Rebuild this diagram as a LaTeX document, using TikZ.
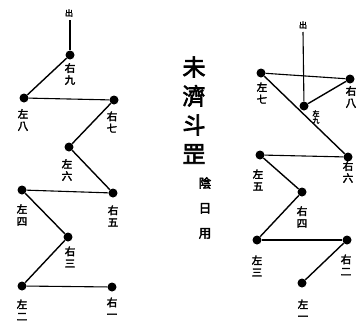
\documentclass[tikz,border=0pt]{standalone}
\usepackage{fontspec}
\newfontfamily\cjk{Noto Sans CJK TC}[FakeBold=3]
\tikzset{
  dot/.style={circle,fill=black,inner sep=0pt,minimum size=9pt},
  lbl/.style={font=\cjk\fontsize{10.5}{12}\selectfont,align=center,inner sep=0pt},
  tinylbl/.style={font=\cjk\fontsize{7}{7}\selectfont,align=center,inner sep=0pt},
  edge/.style={line width=1.4pt},
  thin/.style={line width=1.1pt},
}
\begin{document}
\begin{tikzpicture}[x=1pt,y=-1pt]
\useasboundingbox (0,0) rectangle (358,327);
% ---------- left figure ----------
\node[lbl,font=\cjk\fontsize{8}{8}\selectfont] (Lout) at (69,13) {出};
\coordinate (Ltop) at (70,20);
\node[dot] (L9) at (70,55) {};
\node[dot] (L8) at (24,98) {};
\node[dot] (L7) at (114,100) {};
\node[dot] (L6) at (69,147) {};
\node[dot] (L5) at (113,193) {};
\node[dot] (L4) at (22,190) {};
\node[dot] (L3) at (68,237) {};
\node[dot] (L2) at (22,286) {};
\node[dot] (L1) at (112,287) {};
\node[lbl] (tL9) at (70,74) {右\\九};
\node[lbl] (tL8) at (23,120) {左\\八};
\node[lbl] (tL7) at (112,122) {右\\七};
\node[lbl] (tL6) at (67,170) {左\\六};
\node[lbl] (tL5) at (113,216) {右\\五};
\node[lbl] (tL4) at (22,215) {左\\四};
\node[lbl] (tL3) at (70,257) {右\\三};
\node[lbl] (tL2) at (22,310) {左\\二};
\node[lbl] (tL1) at (112,308) {右\\一};
\draw[thin] (Ltop) -- (L9);
\draw[edge] (L9) -- (L8);
\draw[thin] (L8) -- (L7);
\draw[edge] (L7) -- (L6);
\draw[edge] (L6) -- (L5);
\draw[thin] (L5) -- (L4);
\draw[edge] (L4) -- (L3);
\draw[edge] (L3) -- (L2);
\draw[thin] (L2) -- (L1);
% ---------- title ----------
\node[lbl,font=\cjk\fontsize{23}{29}\selectfont] (title) at (194,110) {未\\濟\\斗\\罡};
\node[lbl,font=\cjk\fontsize{12.5}{25}\selectfont] (sub) at (205,208) {陰\\日\\用};
% ---------- right figure ----------
\node[lbl,font=\cjk\fontsize{8}{8}\selectfont] (Rout) at (303,25) {出};
\coordinate (Rtop) at (303,32);
\node[dot] (R9) at (304,106) {};
\node[dot] (R7) at (261,73) {};
\node[dot] (R8) at (350,79) {};
\node[dot] (R6) at (348,157) {};
\node[dot] (R5) at (260,155) {};
\node[dot] (R4) at (302,192) {};
\node[dot] (R3) at (257,240) {};
\node[dot] (R2) at (347,240) {};
\node[dot] (R1) at (302,283) {};
\node[tinylbl] (tR9) at (316,117) {左\\九};
\node[lbl] (tR7) at (262,93) {左\\七};
\node[lbl] (tR8) at (351,97) {右\\八};
\node[lbl] (tR6) at (348,172) {右\\六};
\node[lbl] (tR5) at (258,180) {左\\五};
\node[lbl] (tR4) at (302,217) {右\\四};
\node[lbl] (tR3) at (257,266) {左\\三};
\node[lbl] (tR2) at (346,265) {右\\二};
\node[lbl] (tR1) at (303,310) {左\\一};
\draw[thin] (Rtop) -- (R9);
\draw[thin] (R7) -- (R8);
\draw[edge] (R8) -- (R9);
\draw[edge] (R7) -- (R6);
\draw[thin] (R6) -- (R5);
\draw[edge] (R5) -- (R4);
\draw[edge] (R4) -- (R3);
\draw[thin] (R3) -- (R2);
\draw[edge] (R2) -- (R1);
\end{tikzpicture}
\end{document}
